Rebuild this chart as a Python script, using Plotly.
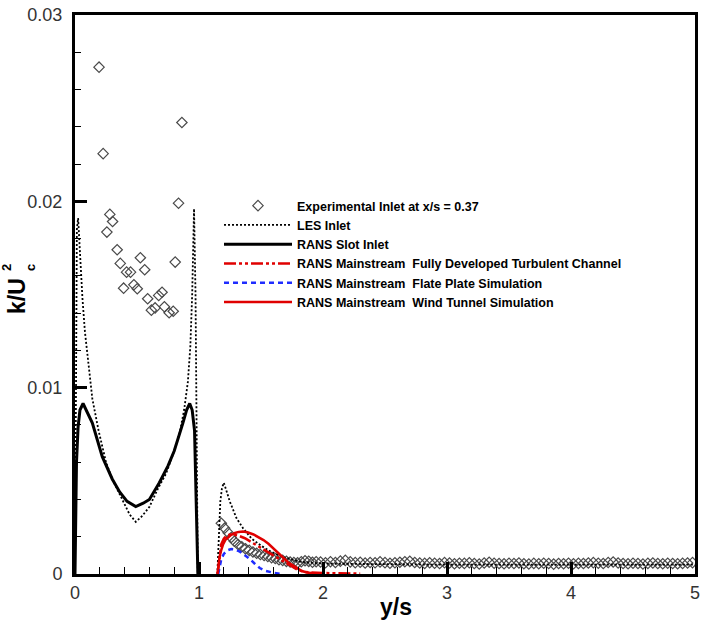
import plotly.graph_objects as go

# Experimental inlet profile at x/s = 0.37: slot region and mainstream region
exp_slot_y = [0.194, 0.227, 0.862, 0.835, 0.281, 0.303, 0.257, 0.340, 0.365, 0.527,
              0.562, 0.416, 0.448, 0.808, 0.392, 0.475, 0.502, 0.586, 0.675, 0.702,
              0.616, 0.646, 0.721, 0.759, 0.792]
exp_slot_k = [0.0272, 0.02256, 0.02423, 0.0199, 0.0193, 0.01892, 0.01835, 0.0174, 0.01667, 0.01697,
              0.01633, 0.0162, 0.0162, 0.01674, 0.01534, 0.01552, 0.01531, 0.01477, 0.01495, 0.01512,
              0.01416, 0.01428, 0.01434, 0.01402, 0.0141]

exp_main_y = [1.180, 1.207, 1.235, 1.260, 1.285, 1.315, 1.345, 1.375, 1.405, 1.435,
              1.465, 1.495, 1.525, 1.555, 1.585, 1.615, 1.645, 1.675, 1.705, 1.735,
              1.765, 1.795, 1.825, 1.855, 1.885, 1.915, 1.945,
              1.98, 2.02, 2.06, 2.10, 2.14, 2.18, 2.22, 2.26, 2.30, 2.34,
              2.38, 2.42, 2.46, 2.50, 2.54, 2.58, 2.62, 2.66, 2.70, 2.74,
              2.78, 2.82, 2.86, 2.90, 2.94, 2.98, 3.02, 3.06, 3.10, 3.14,
              3.18, 3.22, 3.26, 3.30, 3.34, 3.38, 3.42, 3.46, 3.50, 3.54,
              3.58, 3.62, 3.66, 3.70, 3.74, 3.78, 3.82, 3.86, 3.90, 3.94,
              3.98, 4.02, 4.06, 4.10, 4.14, 4.18, 4.22, 4.26, 4.30, 4.34,
              4.38, 4.42, 4.46, 4.50, 4.54, 4.58, 4.62, 4.66, 4.70, 4.74,
              4.78, 4.82, 4.86, 4.90, 4.94, 4.98]
exp_main_k = [0.00272, 0.00246, 0.00222, 0.00196, 0.00176, 0.00158, 0.00146, 0.00135, 0.00127, 0.00118,
              0.00111, 0.00105, 0.00099, 0.00094, 0.00088, 0.00083, 0.00077, 0.00073, 0.00068, 0.00064,
              0.00062, 0.00060, 0.00066, 0.00071, 0.00068, 0.00063, 0.00066,
              0.00064, 0.00060, 0.00066, 0.00062, 0.00069, 0.00073, 0.00065, 0.00061, 0.00063, 0.00059,
              0.00062, 0.00060, 0.00065, 0.00061, 0.00058, 0.00060, 0.00063, 0.00066, 0.00068, 0.00062,
              0.00059, 0.00057, 0.00060, 0.00058, 0.00056, 0.00061, 0.00059, 0.00055, 0.00058, 0.00057,
              0.00060, 0.00056, 0.00054, 0.00059, 0.00063, 0.00058, 0.00056, 0.00055, 0.00058, 0.00056,
              0.00059, 0.00055, 0.00054, 0.00057, 0.00055, 0.00058, 0.00056, 0.00053, 0.00056, 0.00055,
              0.00058, 0.00055, 0.00057, 0.00056, 0.00059, 0.00061, 0.00058, 0.00056, 0.00062, 0.00064,
              0.00059, 0.00056, 0.00055, 0.00058, 0.00056, 0.00054, 0.00057, 0.00059, 0.00056, 0.00055,
              0.00058, 0.00056, 0.00055, 0.00057, 0.00059, 0.00061]

# LES inlet profile (slot gap, then mainstream)
les_y = [0.0, 0.006, 0.015, 0.025, 0.04, 0.06, 0.08, 0.11, 0.14, 0.19,
         0.25, 0.30, 0.38, 0.44, 0.49, 0.54, 0.60, 0.67, 0.735, 0.80,
         0.845, 0.88, 0.91, 0.93, 0.945, 0.96, 0.972, 0.982, 0.99,
         None,
         1.148, 1.153, 1.161, 1.172, 1.185, 1.200, 1.215, 1.248, 1.302, 1.356,
         1.424, 1.50, 1.58, 1.68, 1.82, 1.95, 2.10, 2.50, 3.00, 3.50,
         4.00, 4.50, 5.00]
les_k = [0.0, 0.012, 0.0185, 0.0191, 0.0172, 0.0148, 0.0130, 0.0113, 0.0094, 0.0077,
         0.0060, 0.0051, 0.0040, 0.0032, 0.0028, 0.0031, 0.0036, 0.0046, 0.0054, 0.0066,
         0.0076, 0.0088, 0.0103, 0.0122, 0.0150, 0.0196, 0.0150, 0.0060, 0.0,
         None,
         0.0, 0.0009, 0.0026, 0.0039, 0.0046, 0.0049, 0.0046, 0.0039, 0.0030, 0.00245,
         0.0019, 0.00152, 0.00120, 0.00090, 0.00066, 0.00058, 0.00055, 0.00052, 0.00050, 0.00050,
         0.00050, 0.00050, 0.00050]

# RANS with slot inlet
slot_y = [0.0, 0.005, 0.012, 0.025, 0.04, 0.065, 0.09, 0.14, 0.22, 0.30,
          0.36, 0.42, 0.49, 0.55, 0.60, 0.68, 0.75, 0.80, 0.87, 0.90,
          0.925, 0.945, 0.964, 0.972, 0.978, 0.985, 0.991]
slot_k = [0.0, 0.0030, 0.0060, 0.0079, 0.0088, 0.00915, 0.0088, 0.0081, 0.0063, 0.0051,
          0.0044, 0.0039, 0.00362, 0.0038, 0.0040, 0.0049, 0.0058, 0.0066, 0.0081, 0.0088,
          0.00915, 0.0088, 0.0077, 0.0058, 0.0033, 0.0015, 0.0]

# RANS mainstream, fully developed turbulent channel
chan_y = [1.15, 1.16, 1.17, 1.18, 1.20, 1.22, 1.25, 1.28, 1.32, 1.37,
          1.42, 1.47, 1.52, 1.56, 1.61, 1.66, 1.71, 1.76, 1.80, 1.85,
          1.90, 2.0, 2.1, 2.2, 2.3]
chan_k = [0.0, 0.0006, 0.0012, 0.0016, 0.0019, 0.00205, 0.00212, 0.00212, 0.00205, 0.00192,
          0.00172, 0.00152, 0.00132, 0.00115, 0.00093, 0.00072, 0.00052, 0.00034, 0.00020, 0.00012,
          0.00008, 0.00005, 0.00004, 0.00003, 0.00002]

# RANS mainstream, flat plate simulation
plate_y = [1.155, 1.165, 1.18, 1.20, 1.23, 1.26, 1.29, 1.33, 1.37, 1.41,
           1.45, 1.49, 1.53, 1.57, 1.61, 1.65]
plate_k = [0.0, 0.0004, 0.0008, 0.00108, 0.00127, 0.00134, 0.00132, 0.00120, 0.00102, 0.00080,
           0.00055, 0.00032, 0.00018, 0.00010, 0.00005, 0.00002]

# RANS mainstream, wind tunnel simulation
tunnel_y = [1.150, 1.155, 1.165, 1.18, 1.195, 1.215, 1.235, 1.26, 1.29, 1.32,
            1.355, 1.39, 1.44, 1.48, 1.52, 1.56, 1.60, 1.64, 1.68, 1.72,
            1.76, 1.80, 1.83, 1.87, 1.90, 1.95, 2.0]
tunnel_k = [0.0, 0.0004, 0.0009, 0.0013, 0.0016, 0.00185, 0.00198, 0.0021, 0.0022, 0.00226,
            0.00228, 0.00224, 0.00212, 0.00198, 0.00182, 0.00162, 0.00138, 0.00112, 0.00085, 0.00062,
            0.00045, 0.00028, 0.00016, 0.00008, 0.00004, 0.00001, 0.0]

x_ticks = [0, 1, 2, 3, 4, 5]
y_ticks = [0, 0.01, 0.02, 0.03]

FONT = "Liberation Sans"
RED = "#e00000"
BLUE = "#1f2cff"

fig = go.Figure()

exp_marker = dict(symbol="diamond-open", size=8, color="#4a4a4a", line=dict(width=1.2))
fig.add_trace(go.Scatter(x=exp_slot_y + [None] + exp_main_y,
                         y=exp_slot_k + [None] + exp_main_k,
                         mode="markers", marker=exp_marker,
                         name="Experimental Inlet at x/s = 0.37"))
fig.add_trace(go.Scatter(x=les_y, y=les_k, mode="lines",
                         line=dict(color="black", width=1.8, dash="2px,2px"),
                         name="LES Inlet"))
fig.add_trace(go.Scatter(x=slot_y, y=slot_k, mode="lines",
                         line=dict(color="black", width=3),
                         name="RANS Slot Inlet"))
fig.add_trace(go.Scatter(x=chan_y, y=chan_k, mode="lines",
                         line=dict(color=RED, width=2.5, dash="12px,3px,3px,3px,3px,3px"),
                         name="RANS Mainstream  Fully Developed Turbulent Channel"))
fig.add_trace(go.Scatter(x=plate_y, y=plate_k, mode="lines",
                         line=dict(color=BLUE, width=2.5, dash="5px,4px"),
                         name="RANS Mainstream  Flate Plate Simulation"))
fig.add_trace(go.Scatter(x=tunnel_y, y=tunnel_k, mode="lines",
                         line=dict(color=RED, width=2.5),
                         name="RANS Mainstream  Wind Tunnel Simulation"))

axis_common = dict(
    showline=True, linewidth=3, linecolor="black", mirror=True,
    showgrid=False, zeroline=False, automargin=False,
    ticks="inside", ticklen=12, tickwidth=3, tickcolor="black",
    tickfont=dict(family=FONT, size=18, color="#333"),
)

fig.update_xaxes(range=[0, 5], tickvals=x_ticks, ticklabelstandoff=0,
                 minor=dict(dtick=0.2, ticks="inside", ticklen=7, tickwidth=1, tickcolor="black"),
                 **axis_common)
fig.update_yaxes(range=[0, 0.03], tickvals=y_ticks, ticklabelstandoff=6,
                 minor=dict(dtick=0.002, ticks="inside", ticklen=6, tickwidth=1, tickcolor="black"),
                 **axis_common)

L, R, T, B = 75, 7, 15, 54
W, H = 702, 628
pw, ph = W - L - R, H - T - B


def px_to_paper(px, py):
    return (px - L) / pw, (H - B - py) / ph


# axis titles: y/s below the x-axis, k/U_c^2 with stacked superscript and subscript
titles = [("<b>y/s</b>", (396, 607), 23, 0),
          ("<b>k/U</b>", (17, 296), 23, -90),
          ("<b>2</b>", (6, 268), 13, -90),
          ("<b>c</b>", (30, 268), 13, -90)]
for txt, (px, py), size, angle in titles:
    ax_, ay_ = px_to_paper(px, py)
    fig.add_annotation(text=txt, x=ax_, y=ay_, xref="paper", yref="paper",
                       showarrow=False, textangle=angle, xanchor="center", yanchor="middle",
                       font=dict(family=FONT, size=size, color="black"))

lx, ly = px_to_paper(219, 191)
fig.update_layout(
    width=W, height=H,
    margin=dict(l=L, r=R, t=T, b=B),
    paper_bgcolor="white", plot_bgcolor="white",
    showlegend=True,
    legend=dict(x=lx, y=ly, xanchor="left", yanchor="top",
                bgcolor="rgba(0,0,0,0)", borderwidth=0,
                itemwidth=68, tracegroupgap=0,
                font=dict(family=FONT, size=12.5, color="black", weight="bold")),
)

fig.write_html("out.html")
